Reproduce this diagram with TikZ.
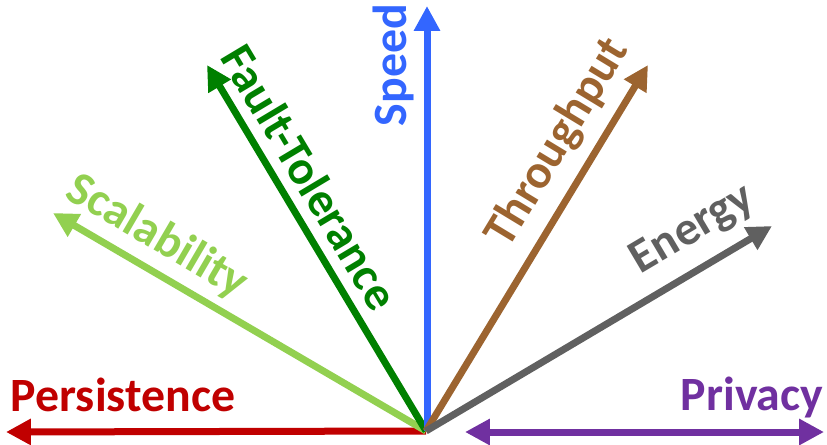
\documentclass[tikz,border=0pt]{standalone}
\usepackage{fontspec}
\setmainfont{Carlito}
\usepackage{tikz}
\usetikzlibrary{arrows.meta,positioning}
\definecolor{dimred}{HTML}{C00000}
\definecolor{dimpurple}{HTML}{7030A0}
\definecolor{dimlime}{HTML}{92D050}
\definecolor{dimgreen}{HTML}{008000}
\definecolor{dimblue}{HTML}{3366FF}
\definecolor{dimbrown}{HTML}{9C6430}
\definecolor{dimgray}{HTML}{606060}

\begin{document}
\begin{tikzpicture}[
  axis/.style={-{Triangle[length=0.62cm,width=0.62cm]},line width=0.175cm,draw=#1},
  dual/.style={{Triangle[length=0.62cm,width=0.62cm]}-{Triangle[length=0.62cm,width=0.62cm]},line width=0.175cm,draw=#1},
  lbl/.style={text=#1,font=\fontsize{34}{38}\selectfont\bfseries,inner sep=0pt}
]
\useasboundingbox (0,0) rectangle (20.675,11.1);
% centre and tips
\coordinate (o)  at (10.65,0.325);
\coordinate (per) at (0.15,0.3);
\coordinate (pl) at (11.625,0.3);
\coordinate (pr) at (20.6,0.3);
\coordinate (sca) at (1.325,5.775);
\coordinate (fau) at (5.175,9.475);
\coordinate (spe) at (10.675,10.95);
\coordinate (thr) at (16.2,9.475);
\coordinate (ene) at (19.3,5.45);
% arrows
\draw[axis=dimred]   (o) -- (per);
\draw[axis=dimlime]  (o) -- (sca);
\draw[axis=dimgreen] (o) -- (fau);
\draw[axis=dimblue]  (spe |- o) -- (spe);
\draw[axis=dimbrown] (o) -- (thr);
\draw[axis=dimgray]  (o) -- (ene);
\draw[dual=dimpurple] (pl) -- (pr);
% labels
\node[lbl=dimred]    (lper) at (3.075,1.225) {Persistence};
\node[lbl=dimpurple] (lpri) at (18.8,1.175) {Privacy};
\node[lbl=dimlime,rotate=-30.3]  (lsca) at (3.925,5.175) {Scalability};
\node[lbl=dimgreen,rotate=-59.1] (lfau) at (7.75,6.675) {Fault-Tolerance};
\node[lbl=dimblue,rotate=90]     (lspe) at (9.825,9.475) {Speed};
\node[lbl=dimbrown,rotate=58.8]  (lthr) at (13.95,7.525) {Throughput};
\node[lbl=dimgray,rotate=30.6]   (lene) at (17.325,5.35) {Energy};
\end{tikzpicture}
\end{document}
